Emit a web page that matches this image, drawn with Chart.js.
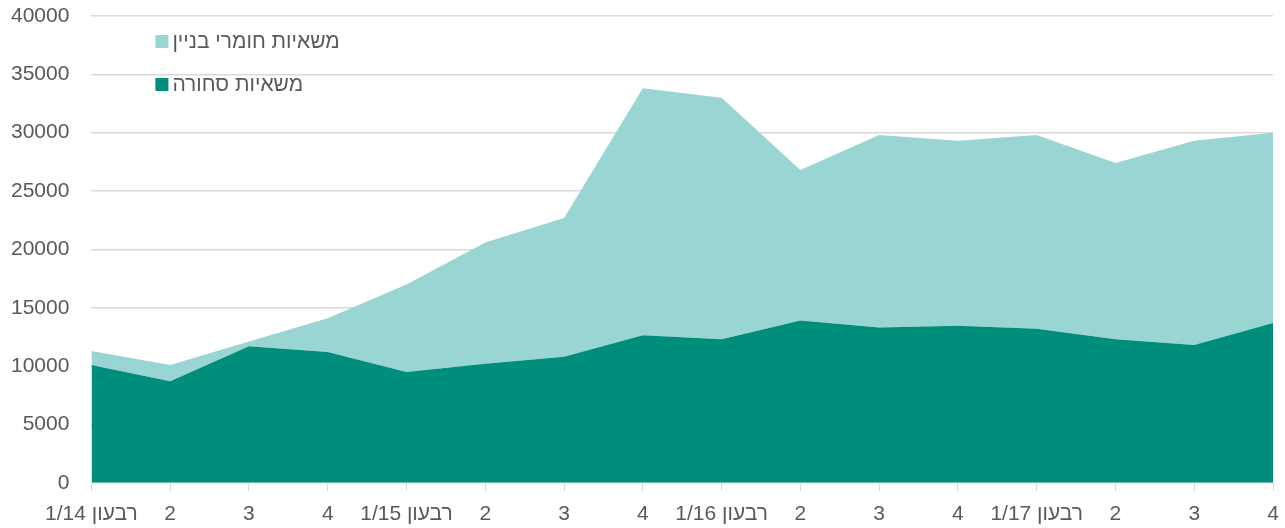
<!DOCTYPE html>
<html>
<head>
<meta charset="utf-8">
<script src="https://cdn.jsdelivr.net/npm/chart.js@4"></script>
<style>
  html, body { margin: 0; padding: 0; background: #fff; overflow: hidden; }
  canvas { display: block; }
</style>
</head>
<body>
<canvas id="myChart" dir="rtl" width="1285" height="528"></canvas>
<script>
const quarters = ["רבעון 1/14", "2", "3", "4", "רבעון 1/15", "2", "3", "4",
                  "רבעון 1/16", "2", "3", "4", "רבעון 1/17", "2", "3", "4"];
const cargoTrucks = [10100, 8700, 11700, 11200, 9500, 10200, 10800, 12650,
                     12300, 13900, 13300, 13450, 13200, 12300, 11800, 13700];
const buildingTrucks = [1200, 1400, 400, 2900, 7500, 10400, 11900, 21150,
                        20700, 12900, 16500, 15850, 16600, 15100, 17500, 16300];
const yTicks = [0, 5000, 10000, 15000, 20000, 25000, 30000, 35000, 40000];

const darkTeal = 'rgb(0, 142, 124)';
const lightTeal = 'rgb(153, 213, 210)';
const textGrey = '#595959';
const fontFamily = '"Liberation Sans", Arial, sans-serif';

// legend drawn inside the plot, top-left, like the original
const innerLegend = {
    id: 'innerLegend',
    afterDraw(chart) {
        const ctx = chart.ctx;
        const area = chart.chartArea;
        const items = [chart.data.datasets[1], chart.data.datasets[0]];
        ctx.save();
        ctx.font = '21px ' + fontFamily;
        ctx.textBaseline = 'middle';
        ctx.textAlign = 'left';
        items.forEach((ds, i) => {
            const y = area.top + 26 + i * 43;
            const x = area.left + 64;
            ctx.fillStyle = ds.backgroundColor;
            ctx.fillRect(x, y - 7, 13, 13);
            ctx.fillStyle = textGrey;
            ctx.fillText(ds.label, x + 17, y);
        });
        ctx.restore();
    }
};

const ctx = document.getElementById('myChart').getContext('2d');
const myChart = new Chart(ctx, {
    type: 'line',
    data: {
        labels: quarters,
        datasets: [{
            label: 'משאיות סחורה',
            data: cargoTrucks,
            backgroundColor: darkTeal,
            borderWidth: 0,
            pointRadius: 0,
            fill: 'origin',
            tension: 0
        }, {
            label: 'משאיות חומרי בניין',
            data: buildingTrucks,
            backgroundColor: lightTeal,
            borderWidth: 0,
            pointRadius: 0,
            fill: '-1',
            tension: 0
        }]
    },
    options: {
        responsive: false,
        animation: false,
        layout: {
            padding: { top: 16, right: 12, bottom: -10, left: -11 }
        },
        plugins: {
            legend: { display: false },
            tooltip: { enabled: false }
        },
        scales: {
            x: {
                offset: false,
                afterFit: (axis) => { axis.paddingRight = 0; },
                grid: {
                    display: true,
                    drawOnChartArea: false,
                    tickLength: 8,
                    color: '#d9d9d9'
                },
                border: { color: '#d9d9d9' },
                ticks: {
                    autoSkip: false,
                    maxRotation: 0,
                    padding: 11,
                    color: textGrey,
                    font: { family: fontFamily, size: 21 }
                }
            },
            y: {
                stacked: true,
                min: 0,
                max: 40000,
                afterBuildTicks: (axis) => {
                    axis.ticks = yTicks.map(v => ({ value: v }));
                },
                afterFit: (axis) => {
                    axis.paddingTop = 0;
                    axis.paddingBottom = 0;
                },
                grid: {
                    color: '#d9d9d9',
                    drawTicks: false,
                    lineWidth: 1.5
                },
                border: { display: false },
                ticks: {
                    padding: 22,
                    color: textGrey,
                    font: { family: fontFamily, size: 21 },
                    callback: (v) => String(v)
                }
            }
        }
    },
    plugins: [innerLegend]
});
</script>
</body>
</html>
